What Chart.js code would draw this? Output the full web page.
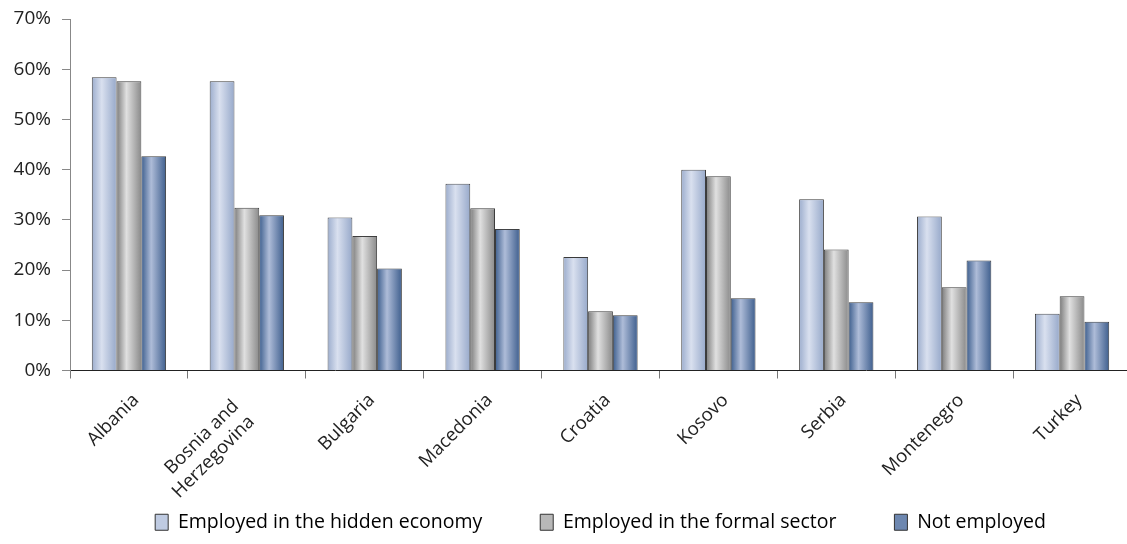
<!DOCTYPE html>
<html><head><meta charset="utf-8">
<script src="https://cdn.jsdelivr.net/npm/chart.js@4/dist/chart.umd.min.js"></script>
<style>html,body{margin:0;padding:0;overflow:hidden;background:#fff}#wrap{width:1131px;height:544px;position:relative}</style>
</head><body><div id="wrap"><canvas id="c" width="1131" height="544"></canvas></div>
<script>
const categories = ['Albania', ['Bosnia and', 'Herzegovina'], 'Bulgaria', 'Macedonia', 'Croatia', 'Kosovo', 'Serbia', 'Montenegro', 'Turkey'];
const seriesNames = ['Employed in the hidden economy', 'Employed in the formal sector', 'Not employed'];
const hiddenEconomy = [58.4, 57.6, 30.5, 37.2, 22.6, 40.0, 34.1, 30.7, 11.3];
const formalSector = [57.6, 32.4, 26.8, 32.3, 11.8, 38.7, 24.1, 16.6, 14.8];
const notEmployed = [42.7, 30.9, 20.3, 28.2, 11.0, 14.4, 13.6, 21.9, 9.7];
const yTickValues = [0, 10, 20, 30, 40, 50, 60, 70];

const gradientStops = [
  ['#9cadcd', '#d9e0ef', '#97a9ca'],
  ['#7c7c7c', '#e0e0e0', '#8a8a8a'],
  ['#3d5e8d', '#aebcd8', '#3f5f8e']
];
const legendFills = ['#bfcbe2', '#b8b8b8', '#6d87b0'];

const barGradient = {
  id: 'barGradient',
  afterLayout(chart) {
    // let the rotated category labels extend below the axis box (v4 clips them to it)
    chart.scales.x.bottom = chart.height;
  },
  beforeDraw(chart) {
    // two-line category labels: sit the block like the original (last line near the tick)
    const sx = chart.scales.x;
    const items = sx.getLabelItems(chart.chartArea);
    items.forEach(it => {
      if (Array.isArray(it.label) && !it._shifted) {
        it.options.translation = [it.options.translation[0] - 18, it.options.translation[1] + 6];
        it._shifted = true;
      }
    });
  },
  afterDatasetDraw(chart, args) {
    const ctx = chart.ctx;
    const stops = gradientStops[args.index];
    args.meta.data.forEach(el => {
      const p = el.getProps(['x', 'y', 'base', 'width'], true);
      const left = p.x - p.width / 2, right = p.x + p.width / 2;
      const g = ctx.createLinearGradient(left, 0, right, 0);
      g.addColorStop(0, stops[0]);
      g.addColorStop(0.4, stops[1]);
      g.addColorStop(1, stops[2]);
      ctx.save();
      ctx.fillStyle = g;
      ctx.fillRect(left + 1, p.y + 1, p.width - 2, p.base - p.y - 1);
      ctx.restore();
    });
  }
};

const FONT = '"Open Sans", "Noto Sans", sans-serif';

new Chart(document.getElementById('c'), {
  type: 'bar',
  data: {
    labels: categories,
    datasets: [
      { label: seriesNames[0], data: hiddenEconomy },
      { label: seriesNames[1], data: formalSector },
      { label: seriesNames[2], data: notEmployed }
    ].map((d, i) => Object.assign(d, {
      backgroundColor: legendFills[i],
      borderColor: '#3a3a3a',
      borderWidth: 1,
      categoryPercentage: 0.63,
      barPercentage: 1.0
    }))
  },
  options: {
    responsive: false,
    animation: false,
    devicePixelRatio: 1,
    layout: { padding: { top: 0, left: 0, right: 0, bottom: 2 } },
    plugins: {
      tooltip: { enabled: false },
      legend: {
        position: 'bottom',
        fullSize: false,
        labels: {
          boxWidth: 13, boxHeight: 16, padding: 58,
          color: '#222', font: { family: FONT, size: 19.5 },
          generateLabels(chart) {
            return chart.data.datasets.map((ds, i) => ({
              text: ds.label, fillStyle: legendFills[i], strokeStyle: '#333',
              lineWidth: 1, datasetIndex: i, hidden: false
            }));
          }
        }
      }
    },
    scales: {
      x: {
        border: { color: '#222', width: 1 },
        grid: { offset: true, drawOnChartArea: false, drawTicks: true, tickLength: 8, color: '#777' },
        ticks: { maxRotation: 45, minRotation: 45, color: '#222', font: { family: FONT, size: 18.5 }, padding: 11, labelOffset: 7 },
        afterFit(scale) { scale.height = 84; }
      },
      y: {
        min: 0, max: 70,
        border: { color: '#888', width: 1 },
        grid: { drawOnChartArea: false, drawTicks: true, tickLength: 8, color: '#888' },
        afterBuildTicks(scale) { scale.ticks = yTickValues.map(v => ({ value: v })); },
        ticks: { color: '#222', font: { family: FONT, size: 19, lineHeight: 0.85 }, padding: 11, callback: v => v + '%' },
        afterFit(scale) { scale.width = 70; }
      }
    }
  },
  plugins: [barGradient]
});
</script></body></html>
